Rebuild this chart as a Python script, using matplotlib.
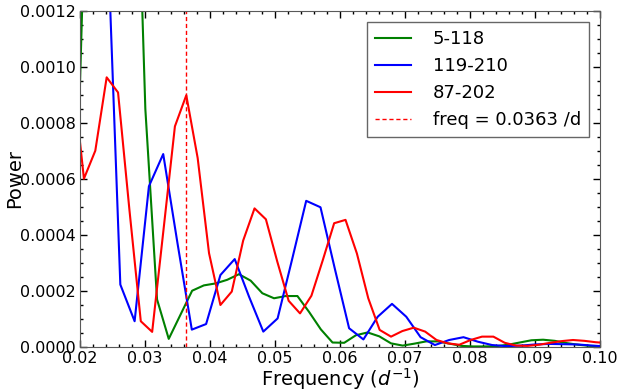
import matplotlib
matplotlib.use("Agg")
import matplotlib.pyplot as plt
from matplotlib.ticker import MultipleLocator, FormatStrFormatter

# periodogram of three data segments
freq_a = [0.01925, 0.02105, 0.02285, 0.02465, 0.02645, 0.02825, 0.03005, 0.03185,
          0.03365, 0.03545, 0.03725, 0.03905, 0.04085, 0.04265, 0.04445, 0.04625,
          0.04805, 0.04985, 0.05165, 0.05345, 0.05525, 0.05705, 0.05885, 0.06065,
          0.06245, 0.06425, 0.06605, 0.06785, 0.06965, 0.07145, 0.07325, 0.07505,
          0.07685, 0.07865, 0.08045, 0.08225, 0.08405, 0.08585, 0.08765, 0.08945,
          0.09125, 0.09305, 0.09485, 0.09665, 0.09845, 0.10025]
power_a = [0.00033, 0.0018, 0.0035, 0.0045, 0.0040, 0.0022, 0.00085, 0.00017,
           0.000029, 0.000115, 0.000201, 0.00022, 0.000227, 0.00024, 0.00026, 0.000237,
           0.000192, 0.000174, 0.000182, 0.000182, 0.000125, 0.000063, 0.000016, 0.000015,
           0.000042, 0.000052, 0.000038, 0.000013, 0.000005, 0.000012, 0.00002, 0.00002,
           0.000012, 0.000004, 0.000002, 0.000002, 0.000003, 0.000008, 0.000016, 0.000024,
           0.000026, 0.000022, 0.000014, 0.000008, 0.000004, 0.000003]

freq_b = [0.0196, 0.0218, 0.0240, 0.0262, 0.0284, 0.0306, 0.0328, 0.0350, 0.0372,
          0.0394, 0.0416, 0.0438, 0.0460, 0.0482, 0.0504, 0.0526, 0.0548, 0.0570,
          0.0592, 0.0614, 0.0636, 0.0658, 0.0680, 0.0702, 0.0724, 0.0746, 0.0768,
          0.0790, 0.0812, 0.0834, 0.0856, 0.0878, 0.0900, 0.0922, 0.0944, 0.0966,
          0.0988, 0.1010]
power_b = [0.0040, 0.0035, 0.00162, 0.000223, 0.000092, 0.000574, 0.000689, 0.00037, 0.000062,
           0.000082, 0.000257, 0.000314, 0.00018, 0.000055, 0.000102, 0.00031, 0.000522, 0.000499,
           0.00028, 0.000067, 0.000027, 0.000108, 0.000154, 0.000108, 0.000035, 0.000007, 0.000025,
           0.000035, 0.000019, 0.000007, 0.000003, 0.000005, 0.000009, 0.000011, 0.00001, 0.000009,
           0.000005, 0.000002]

freq_c = [0.01885, 0.0206, 0.02235, 0.0241, 0.02585, 0.0276, 0.02935, 0.0311, 0.03285,
          0.0346, 0.03635, 0.0381, 0.03985, 0.0416, 0.04335, 0.0451, 0.04685, 0.0486,
          0.05035, 0.0521, 0.05385, 0.0556, 0.05735, 0.0591, 0.06085, 0.0626, 0.06435,
          0.0661, 0.06785, 0.0696, 0.07135, 0.0731, 0.07485, 0.0766, 0.07835, 0.0801,
          0.08185, 0.0836, 0.08535, 0.0871, 0.08885, 0.0906, 0.09235, 0.0941, 0.09585,
          0.0976, 0.09935, 0.1011]
power_c = [0.00098, 0.000601, 0.000701, 0.000963, 0.000909, 0.00049, 0.000092, 0.000054, 0.00042,
           0.000788, 0.000899, 0.000675, 0.000335, 0.00015, 0.000198, 0.00038, 0.000495, 0.000456,
           0.000305, 0.000165, 0.00012, 0.000183, 0.00031, 0.000442, 0.000454, 0.000334, 0.000174,
           0.000061, 0.000037, 0.000057, 0.000069, 0.000055, 0.000025, 0.000013, 0.000008, 0.000025,
           0.000037, 0.000037, 0.000015, 0.000005, 0.000004, 0.000008, 0.000015, 0.000021, 0.000025,
           0.000022, 0.000017, 0.000014]

labels = ["5-118", "119-210", "87-202"]
best_freq = 0.0363

fig = plt.figure(figsize=(6.17, 3.92), dpi=100)
ax = fig.add_axes([0.1297, 0.1148, 0.8427, 0.8572])

ax.plot(freq_a, power_a, color="g", lw=1.5, label=labels[0])
ax.plot(freq_b, power_b, color="b", lw=1.5, label=labels[1])
ax.plot(freq_c, power_c, color="r", lw=1.5, label=labels[2])
ax.axvline(best_freq, color="r", ls="--", lw=1, dashes=(3, 2),
           label=f"freq = {best_freq} /d")

ax.set_xlim(0.02, 0.10)
ax.set_ylim(0, 0.0012)
ax.xaxis.set_major_locator(MultipleLocator(0.01))
ax.xaxis.set_minor_locator(MultipleLocator(0.002))
ax.yaxis.set_major_locator(MultipleLocator(0.0002))
ax.yaxis.set_minor_locator(MultipleLocator(0.00005))
ax.xaxis.set_major_formatter(FormatStrFormatter("%.2f"))
ax.yaxis.set_major_formatter(FormatStrFormatter("%.4f"))
ax.tick_params(which="both", direction="in", top=True, right=True, labelsize=11.5)
ax.tick_params(which="major", length=5, width=1, pad=3)
ax.tick_params(which="minor", length=2.5, width=1)
for s in ax.spines.values():
    s.set_color("0.35")

ax.set_xlabel("Frequency ($d^{-1}$)", fontsize=14, labelpad=0)
ax.set_ylabel("Power", fontsize=14, labelpad=1)
ax.yaxis.set_label_coords(-0.107, 0.5)

leg = ax.legend(loc="upper right", fontsize=13, fancybox=False, framealpha=1,
                handlelength=2.0, borderaxespad=0.6, labelspacing=0.5,
                handletextpad=1.2, borderpad=0.45)
leg.get_frame().set_edgecolor("0.4")

fig.savefig("out.png", dpi=100)
